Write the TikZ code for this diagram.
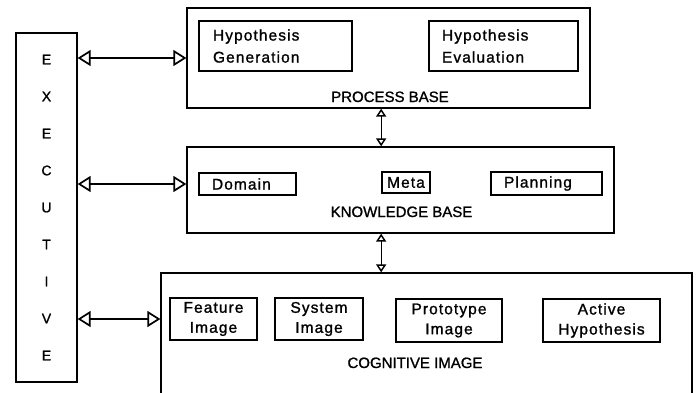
\documentclass[tikz,border=0pt]{standalone}
\usepackage{fontspec}
\setmainfont{Liberation Sans}
\usetikzlibrary{arrows.meta}

\newcommand{\partfont}{\fontsize{15.5}{20}\selectfont\addfontfeature{LetterSpace=7,FakeBold=1.2}}
\newcommand{\capfont}{\fontsize{15}{18}\selectfont\addfontfeature{FakeBold=1.2}}

\tikzset{
  base/.style={draw, line width=1.3pt, inner sep=0pt},
  part/.style={draw, line width=1.7pt, inner sep=0pt, font=\partfont},
  caption/.style={font=\capfont, inner sep=0pt, anchor=base},
  link/.style={line width=1.3pt, {Triangle[open,length=13pt,width=16pt,line width=1.7pt]}-{Triangle[open,length=13pt,width=16pt,line width=1.7pt]}},
  small link/.style={line width=1.3pt, {Triangle[open,length=8pt,width=10pt,line width=1.5pt]}-{Triangle[open,length=8pt,width=10pt,line width=1.5pt]}}
}

\begin{document}
\begin{tikzpicture}[x=1pt, y=-1pt]
    \useasboundingbox (0,0) rectangle (698,392);

    % executive
    \node[base, minimum width=61pt, minimum height=349pt, align=center,
          font=\fontsize{14}{37}\selectfont\addfontfeature{FakeBold=1.2}] (exec) at (46.5,207.5)
          {E\\X\\E\\C\\U\\T\\I\\V\\E};

    % process base
    \node[base, minimum width=403pt, minimum height=100pt] (pb) at (388.5,58) {};
    \node[part, minimum width=153pt, minimum height=50pt, text width=125pt, align=left,
          font=\partfont\linespread{1.1}\selectfont]
        (hg) at (275.5,46) {Hypothesis\\Generation};
    \node[part, minimum width=149pt, minimum height=50pt, text width=123pt, align=left,
          font=\partfont\linespread{1.1}\selectfont]
        (he) at (503.5,46) {Hypothesis\\Evaluation};
    \node[caption] (pbl) at (390,102) {PROCESS BASE};

    % knowledge base
    \node[base, minimum width=427pt, minimum height=86pt] (kb) at (400.5,190) {};
    \node[part, minimum width=97pt, minimum height=22pt, text width=71pt, align=left]
        (dom) at (247.5,184) {Domain};
    \node[part, minimum width=48pt, minimum height=21pt] (meta) at (406,182.5) {Meta};
    \node[part, minimum width=111pt, minimum height=23pt, text width=85pt, align=left]
        (plan) at (546.5,183.5) {Planning};
    \node[caption] (kbl) at (401.5,217) {KNOWLEDGE BASE};

    % cognitive image
    \node[base, minimum width=531pt, minimum height=127pt] (ci) at (426.5,336.5) {};
    \node[part, minimum width=87pt, minimum height=42pt, align=center]
        (fi) at (213.5,319) {Feature\\Image};
    \node[part, minimum width=88pt, minimum height=42pt, align=center]
        (si) at (319,319) {System\\Image};
    \node[part, minimum width=106pt, minimum height=43pt, align=center]
        (pi) at (449,320.5) {Prototype\\Image};
    \node[part, minimum width=117pt, minimum height=43pt, align=center]
        (ah) at (601.5,320.5) {Active\\Hypothesis};
    \node[caption] (cil) at (415,368) {COGNITIVE IMAGE};

    % links
    \draw[link] (exec.east |- pb.west) -- (pb.west);
    \draw[link] (exec.east |- dom.west) -- (dom.west -| kb.west);
    \draw[link] (exec.east |- fi.west) -- (fi.west -| ci.west);
    \draw[small link] (meta.west |- pb.south) -- (meta.west |- kb.north);
    \draw[small link] (meta.west |- kb.south) -- (meta.west |- ci.north);
\end{tikzpicture}
\end{document}
